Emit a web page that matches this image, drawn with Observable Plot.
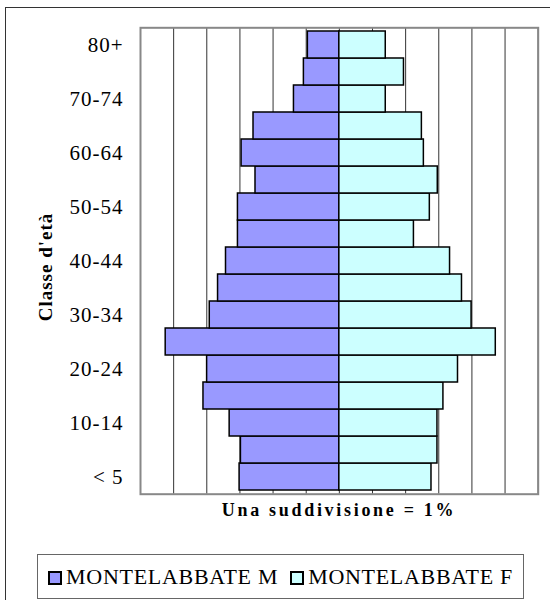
<!DOCTYPE html>
<html>
<head>
<meta charset="utf-8">
<script src="https://cdn.jsdelivr.net/npm/d3@7"></script>
<script src="https://cdn.jsdelivr.net/npm/@observablehq/plot@0.6"></script>
<style>
  html, body { margin: 0; padding: 0; background: #fff; }
  body { width: 550px; height: 600px; overflow: hidden; position: relative; font-family: "Liberation Serif", "Times New Roman", serif; }
  #outer { position: absolute; left: 5px; top: 7px; width: 700px; height: 700px; border: 1.5px solid #333; box-sizing: border-box; }
  #chart { position: absolute; left: 0; top: 0; }
  #xlabel { position: absolute; left: 140px; width: 398px; top: 501px; line-height: 18px; text-align: center; font-weight: bold; font-size: 18px; letter-spacing: 2.7px; color: #000; white-space: nowrap; }
  #legend { position: absolute; left: 37px; top: 554px; width: 487px; height: 45px; border: 1.5px solid #666; box-sizing: border-box; display: flex; align-items: center; justify-content: center; font-size: 22px; letter-spacing: 0.7px; color: #000; white-space: nowrap; }
  .item { display: flex; align-items: center; margin: 0 6px; }
  .sw { width: 14px; height: 14px; border: 2px solid #000; box-sizing: border-box; margin-right: 4px; margin-top: 3px; }
</style>
</head>
<body>
<div id="outer"></div>
<div id="chart"></div>
<div id="xlabel">Una suddivisione = 1%</div>
<div id="legend"></div>
<script>
// Age classes (bottom to top)
const ages = ["< 5","5-9","10-14","15-19","20-24","25-29","30-34","35-39","40-44","45-49","50-54","55-59","60-64","65-69","70-74","75-79","80+"];
// Percent of population
const male   = [3.01, 2.97, 3.31, 4.10, 3.99, 5.24, 3.91, 3.66, 3.42, 3.06, 3.06, 2.53, 2.95, 2.59, 1.37, 1.07, 0.95];
const female = [2.78, 2.96, 2.96, 3.14, 3.58, 4.72, 3.99, 3.70, 3.34, 2.25, 2.73, 2.97, 2.55, 2.49, 1.40, 1.95, 1.40];
// Tick labels shown on the y axis
const yTickLabels = ["< 5","10-14","20-24","30-34","40-44","50-54","60-64","70-74","80+"];
// Grid divisions (1% each)
const gridTicks = [-6,-5,-4,-3,-2,-1,0,1,2,3,4,5,6];
const seriesNames = ["MONTELABBATE M", "MONTELABBATE F"];
const seriesColors = ["#9999FF", "#CCFFFF"];
const yTitle = "Classe d'età";

const rows = ages.map((a, i) => ({age: a, m: -male[i], f: female[i]}));

const chart = Plot.plot({
  width: 550,
  height: 500,
  marginLeft: 140,
  marginRight: 12.3,
  marginTop: 27.3,
  marginBottom: 6.3,
  style: {fontFamily: "'Liberation Serif', 'Times New Roman', serif", fontSize: "21px", letterSpacing: "1px", background: "transparent", color: "#000", overflow: "visible"},
  x: {domain: [gridTicks[0], gridTicks[gridTicks.length - 1]], axis: null},
  y: {domain: ages.slice().reverse(), padding: 0},
  marks: [
    Plot.ruleX(gridTicks, {stroke: "#333", strokeWidth: 1}),
    Plot.barX(rows, {y: "age", x1: 0, x2: "m", fill: seriesColors[0], stroke: "#000", strokeWidth: 1.5}),
    Plot.barX(rows, {y: "age", x1: 0, x2: "f", fill: seriesColors[1], stroke: "#000", strokeWidth: 1.5}),
    Plot.frame({stroke: "#888", strokeWidth: 2}),
    Plot.axisY(yTickLabels, {tickSize: 0, tickPadding: 17, fontSize: 21, label: null, fill: "#000"}),
    Plot.text([yTitle], {frameAnchor: "left", textAnchor: "middle", rotate: -90, dx: -95, dy: 6, fontSize: 19, fontWeight: "bold", fill: "#000"})
  ]
});
document.getElementById("chart").appendChild(chart);

const legend = document.getElementById("legend");
seriesNames.forEach((name, i) => {
  const item = document.createElement("div");
  item.className = "item";
  const sw = document.createElement("div");
  sw.className = "sw";
  sw.style.background = seriesColors[i];
  const t = document.createElement("span");
  t.textContent = name;
  item.appendChild(sw);
  item.appendChild(t);
  legend.appendChild(item);
});
</script>
</body>
</html>
